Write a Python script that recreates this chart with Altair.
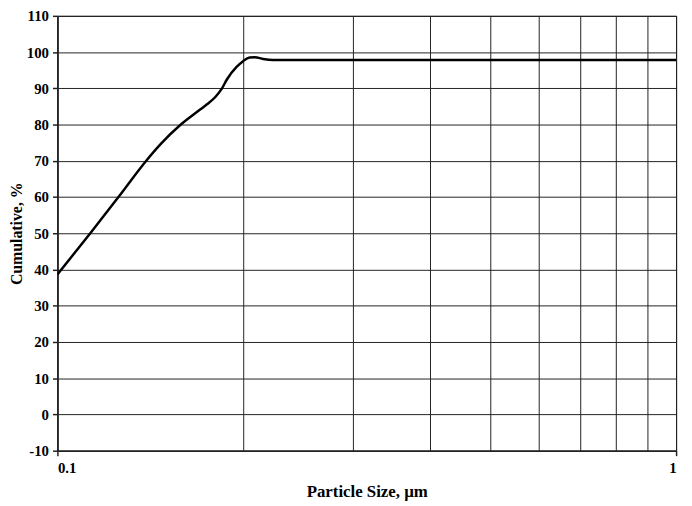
import altair as alt
import pandas as pd

size_um = [0.100, 0.1131, 0.1255, 0.1393, 0.1472, 0.1583, 0.1703, 0.1745,
           0.180, 0.1844, 0.188, 0.1948, 0.1996, 0.2045, 0.2085, 0.215, 0.223,
           0.30, 0.50, 1.00]
cumulative = [38.6, 50.1, 60.0, 70.1, 74.8, 80.0, 84.2, 85.6,
              87.6, 89.9, 92.5, 95.9, 97.5, 98.5, 98.6, 98.1, 97.8,
              97.8, 97.8, 97.8]

x_grid = [0.1, 0.2, 0.3, 0.4, 0.5, 0.6, 0.7, 0.8, 0.9, 1.0]
y_ticks = list(range(-10, 111, 10))

df = pd.DataFrame({"size": size_um, "cum": cumulative})

FONT = "Liberation Serif"

chart = alt.Chart(df).mark_line(
    color="black", strokeWidth=2.5, interpolate="monotone", clip=True
).encode(
    x=alt.X("size:Q",
            scale=alt.Scale(type="log", domain=[0.1, 1], nice=False),
            axis=alt.Axis(
                values=x_grid,
                title="Particle Size, µm",
                labelExpr="(datum.value < 0.15 || datum.value > 0.95) ? datum.label : ''",
                format="~g",
                tickSize=5,
                tickOpacity={"condition": {"test": "datum.value < 0.15 || datum.value > 0.95", "value": 1}, "value": 0},
                labelPadding=5,
                titlePadding=8,
                titleFontSize=17,
                grid=True,
            )),
    y=alt.Y("cum:Q",
            scale=alt.Scale(domain=[-10, 110], nice=False, zero=False),
            axis=alt.Axis(
                values=y_ticks,
                title="Cumulative, %",
                labelExpr="toString(datum.value)",
                tickSize=5,
                labelPadding=4,
                titlePadding=2,
                titleFontSize=16,
                grid=True,
            )),
).properties(
    width=626,
    height=440,
    autosize=alt.AutoSizeParams(type="none"),
    padding={"left": 50, "top": 5, "right": 8, "bottom": 50},
).configure_view(
    stroke="black", strokeWidth=1
).configure_axis(
    gridColor="#222",
    gridWidth=1,
    gridOpacity=1,
    domainColor="#222",
    domainWidth=1.5,
    tickColor="#222",
    tickWidth=1.5,
    labelFont=FONT,
    labelFontSize=15,
    labelFontWeight="bold",
    labelColor="black",
    titleFont=FONT,
    titleFontWeight="bold",
    titleColor="black",
)

chart.save("out.html", embed_options={"renderer": "svg", "actions": False})
